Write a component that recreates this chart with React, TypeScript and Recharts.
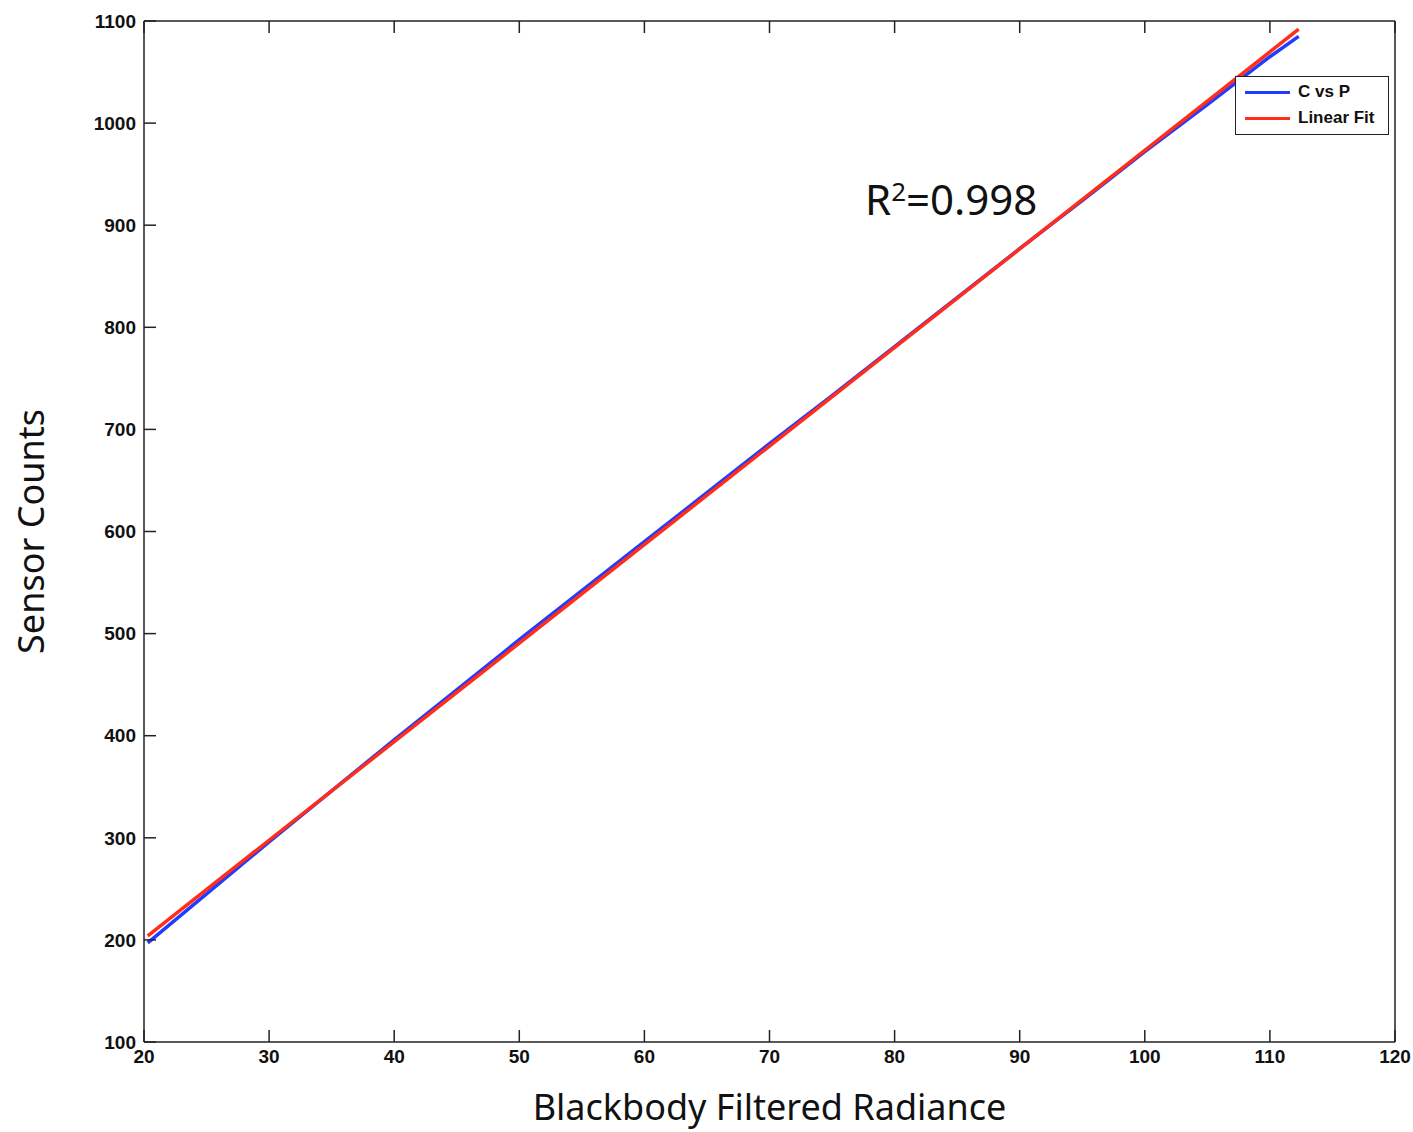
import React from 'react';
import { LineChart, Line, XAxis, YAxis, Legend, Label } from 'recharts';

// measured counts vs radiance (C vs P)
const radiance = [20.3, 25, 30, 35, 40, 45, 50, 55, 60, 65, 70, 75, 80, 85, 90, 95, 100, 105, 110, 112.3];
const counts = [197, 245, 296, 346, 396, 445, 494, 542, 590, 638, 686, 733, 781, 829, 877, 924, 972, 1018, 1065, 1085];

// linear fit end points
const fitRadiance = [20.3, 112.3];
const fitCounts = [204, 1092];

const xTicks = [20, 30, 40, 50, 60, 70, 80, 90, 100, 110, 120];
const yTicks = [100, 200, 300, 400, 500, 600, 700, 800, 900, 1000, 1100];

const measured = radiance.map((x, i) => ({ x, y: counts[i] }));
const fit = fitRadiance.map((x, i) => ({ x, y: fitCounts[i] }));

const BLUE = '#1f3cff';
const RED = '#ff2d1a';
const AXIS = '#222';

const tickFont = { fontFamily: 'Liberation Sans, Arial, sans-serif', fontWeight: 700, fontSize: 19, fill: '#111' };

const NoLabel = () => <g />;

const LegendBox = () => (
  <div
    style={{
      border: '1.5px solid #222',
      background: '#fff',
      padding: '2px 8px 3px 9px',
      fontFamily: 'Liberation Sans, Arial, sans-serif',
      fontWeight: 700,
      fontSize: 17,
      color: '#111',
      lineHeight: '26px',
    }}
  >
    {[
      { name: 'C vs P', color: BLUE },
      { name: 'Linear Fit', color: RED },
    ].map((item) => (
      <div key={item.name} style={{ display: 'flex', alignItems: 'center' }}>
        <span style={{ display: 'inline-block', width: 45, height: 3, background: item.color, marginRight: 8 }} />
        {item.name}
      </div>
    ))}
  </div>
);

const YTitle = ({ viewBox }: any) => {
  const cx = 30;
  const cy = viewBox.y + viewBox.height / 2;
  return (
    <text
      x={cx}
      y={cy}
      transform={`rotate(-90, ${cx}, ${cy})`}
      textAnchor="middle"
      dominantBaseline="central"
      style={{ fontFamily: 'Noto Sans, sans-serif', fontSize: 36, fill: '#111' }}
    >
      Sensor Counts
    </text>
  );
};

export default function App() {
  return (
    <div style={{ position: 'absolute', left: 0, top: 0, width: 1413, height: 1132, background: '#fff' }}>
      <LineChart width={1413} height={1132} margin={{ top: 20, right: 17, left: 8, bottom: 0 }}>
        <XAxis
          xAxisId={0}
          type="number"
          dataKey="x"
          domain={[20, 120]}
          ticks={xTicks}
          allowDataOverflow
          height={90}
          tickSize={-12}
          tickMargin={20}
          tick={tickFont}
          stroke={AXIS}
          strokeWidth={1.5}
        >
          <Label
            value="Blackbody Filtered Radiance"
            position="insideBottom"
            offset={12}
            style={{ fontFamily: 'Noto Sans, sans-serif', fontSize: 36, fill: '#111' }}
          />
        </XAxis>
        <XAxis
          xAxisId="top"
          orientation="top"
          type="number"
          dataKey="x"
          domain={[20, 120]}
          ticks={xTicks}
          allowDataOverflow
          height={1}
          tickSize={-12}
          tick={NoLabel}
          stroke={AXIS}
          strokeWidth={1.5}
        />
        <YAxis
          yAxisId={0}
          type="number"
          domain={[100, 1100]}
          ticks={yTicks}
          allowDataOverflow
          width={136}
          tickSize={-12}
          tickMargin={20}
          tick={tickFont}
          stroke={AXIS}
          strokeWidth={1.5}
        >
          <Label content={YTitle} />
        </YAxis>
        <YAxis
          yAxisId="right"
          orientation="right"
          type="number"
          domain={[100, 1100]}
          ticks={yTicks}
          width={1}
          tickSize={-12}
          tick={NoLabel}
          stroke={AXIS}
          strokeWidth={1.5}
        />
        <Legend
          layout="vertical"
          align="center"
          verticalAlign="middle"
          content={LegendBox}
          wrapperStyle={{ top: 76, left: 1235, width: 154 }}
        />
        <Line
          data={measured}
          dataKey="y"
          name="C vs P"
          stroke={BLUE}
          strokeWidth={3.5}
          dot={false}
          isAnimationActive={false}
        />
        <Line
          data={fit}
          dataKey="y"
          name="Linear Fit"
          stroke={RED}
          strokeWidth={3.5}
          dot={false}
          isAnimationActive={false}
        />
      </LineChart>
      <div
        style={{
          position: 'absolute',
          left: 865,
          top: 178,
          fontFamily: 'Noto Sans, sans-serif',
          fontSize: 42,
          color: '#111',
          lineHeight: 1,
        }}
      >
        R<sup style={{ fontSize: 26, verticalAlign: 'top', position: 'relative', top: 0 }}>2</sup>=0.998
      </div>
    </div>
  );
}
